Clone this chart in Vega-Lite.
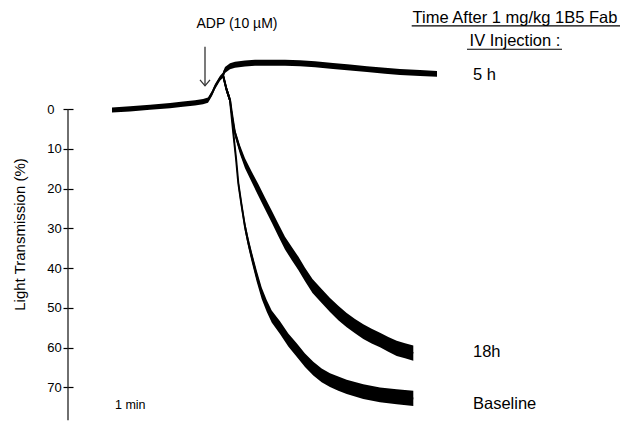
{
  "$schema": "https://vega.github.io/schema/vega-lite/v6.json",
  "width": 550,
  "height": 428,
  "autosize": {"type": "none"},
  "padding": {"left": 73, "top": 0, "right": 0, "bottom": 0},
  "background": "white",
  "config": {"view": {"stroke": null}, "font": "Liberation Sans", "axis": {"grid": false}},
  "datasets": {
    "traces": [
      {"series": "pre", "t": -1.86, "v": 0.2, "lo": -0.45, "hi": 0.85},
      {"series": "pre", "t": -1.5, "v": -0.1, "lo": -0.75, "hi": 0.55},
      {"series": "pre", "t": -1.1, "v": -0.5, "lo": -1.15, "hi": 0.15},
      {"series": "pre", "t": -0.7, "v": -0.9, "lo": -1.55, "hi": -0.25},
      {"series": "pre", "t": -0.44, "v": -1.3, "lo": -1.95, "hi": -0.65},
      {"series": "pre", "t": -0.2, "v": -1.6, "lo": -2.25, "hi": -0.95},
      {"series": "pre", "t": -0.04, "v": -1.9, "lo": -2.55, "hi": -1.25},
      {"series": "pre", "t": 0.06, "v": -2.3, "lo": -2.95, "hi": -1.65},
      {"series": "pre", "t": 0.14, "v": -4.0, "lo": -4.65, "hi": -3.35},
      {"series": "pre", "t": 0.2, "v": -5.7, "lo": -6.35, "hi": -5.05},
      {"series": "pre", "t": 0.3, "v": -7.8, "lo": -8.45, "hi": -7.15},
      {"series": "pre", "t": 0.36, "v": -8.6, "lo": -9.25, "hi": -7.95},

      {"series": "5 h", "t": 0.36, "v": -8.6, "lo": -9.35, "hi": -7.85},
      {"series": "5 h", "t": 0.4, "v": -9.9, "lo": -10.65, "hi": -9.15},
      {"series": "5 h", "t": 0.5, "v": -10.8, "lo": -11.55, "hi": -10.05},
      {"series": "5 h", "t": 0.6, "v": -11.2, "lo": -11.95, "hi": -10.45},
      {"series": "5 h", "t": 0.8, "v": -11.5, "lo": -12.25, "hi": -10.75},
      {"series": "5 h", "t": 1.0, "v": -11.7, "lo": -12.45, "hi": -10.95},
      {"series": "5 h", "t": 1.24, "v": -11.7, "lo": -12.45, "hi": -10.95},
      {"series": "5 h", "t": 1.6, "v": -11.7, "lo": -12.45, "hi": -10.95},
      {"series": "5 h", "t": 1.9, "v": -11.6, "lo": -12.35, "hi": -10.85},
      {"series": "5 h", "t": 2.2, "v": -11.3, "lo": -12.05, "hi": -10.55},
      {"series": "5 h", "t": 2.56, "v": -10.9, "lo": -11.65, "hi": -10.15},
      {"series": "5 h", "t": 2.9, "v": -10.5, "lo": -11.25, "hi": -9.75},
      {"series": "5 h", "t": 3.24, "v": -10.1, "lo": -10.85, "hi": -9.35},
      {"series": "5 h", "t": 3.6, "v": -9.7, "lo": -10.45, "hi": -8.95},
      {"series": "5 h", "t": 3.9, "v": -9.4, "lo": -10.15, "hi": -8.65},
      {"series": "5 h", "t": 4.3, "v": -9.1, "lo": -9.85, "hi": -8.35},
      {"series": "5 h", "t": 4.64, "v": -8.9, "lo": -9.65, "hi": -8.15},

      {"series": "18h", "t": 0.36, "v": -8.6, "lo": -9.4, "hi": -7.8},
      {"series": "18h", "t": 0.43, "v": -5.0, "lo": -5.8, "hi": -4.2},
      {"series": "18h", "t": 0.5, "v": -2.3, "lo": -3.1, "hi": -1.5},
      {"series": "18h", "t": 0.55, "v": 2.0, "lo": 1.05, "hi": 2.95},
      {"series": "18h", "t": 0.6, "v": 6.0, "lo": 5.0, "hi": 7.0},
      {"series": "18h", "t": 0.7, "v": 10.2, "lo": 9.05, "hi": 11.35},
      {"series": "18h", "t": 0.8, "v": 13.6, "lo": 12.35, "hi": 14.85},
      {"series": "18h", "t": 0.933, "v": 17.0, "lo": 15.65, "hi": 18.35},
      {"series": "18h", "t": 1.066, "v": 20.3, "lo": 18.85, "hi": 21.75},
      {"series": "18h", "t": 1.2, "v": 23.7, "lo": 22.2, "hi": 25.2},
      {"series": "18h", "t": 1.334, "v": 27.0, "lo": 25.5, "hi": 28.5},
      {"series": "18h", "t": 1.467, "v": 30.4, "lo": 28.85, "hi": 31.95},
      {"series": "18h", "t": 1.6, "v": 33.7, "lo": 32.1, "hi": 35.3},
      {"series": "18h", "t": 1.733, "v": 36.3, "lo": 34.65, "hi": 37.95},
      {"series": "18h", "t": 1.866, "v": 38.8, "lo": 37.1, "hi": 40.5},
      {"series": "18h", "t": 2.0, "v": 41.6, "lo": 39.9, "hi": 43.3},
      {"series": "18h", "t": 2.15, "v": 44.5, "lo": 42.75, "hi": 46.25},
      {"series": "18h", "t": 2.333, "v": 47.0, "lo": 45.25, "hi": 48.75},
      {"series": "18h", "t": 2.5, "v": 49.3, "lo": 47.55, "hi": 51.05},
      {"series": "18h", "t": 2.666, "v": 51.3, "lo": 49.5, "hi": 53.1},
      {"series": "18h", "t": 2.834, "v": 53.1, "lo": 51.3, "hi": 54.9},
      {"series": "18h", "t": 3.0, "v": 54.6, "lo": 52.8, "hi": 56.4},
      {"series": "18h", "t": 3.166, "v": 56.0, "lo": 54.15, "hi": 57.85},
      {"series": "18h", "t": 3.333, "v": 57.1, "lo": 55.25, "hi": 58.95},
      {"series": "18h", "t": 3.5, "v": 58.1, "lo": 56.25, "hi": 59.95},
      {"series": "18h", "t": 3.666, "v": 59.2, "lo": 57.35, "hi": 61.05},
      {"series": "18h", "t": 3.834, "v": 60.2, "lo": 58.3, "hi": 62.1},
      {"series": "18h", "t": 4.0, "v": 60.8, "lo": 58.9, "hi": 62.7},
      {"series": "18h", "t": 4.166, "v": 61.4, "lo": 59.5, "hi": 63.3},

      {"series": "Baseline", "t": 0.36, "v": -8.6, "lo": -9.4, "hi": -7.8},
      {"series": "Baseline", "t": 0.43, "v": -5.0, "lo": -5.8, "hi": -4.2},
      {"series": "Baseline", "t": 0.5, "v": -2.3, "lo": -3.1, "hi": -1.5},
      {"series": "Baseline", "t": 0.566, "v": 6.0, "lo": 5.0, "hi": 7.0},
      {"series": "Baseline", "t": 0.62, "v": 12.3, "lo": 11.25, "hi": 13.35},
      {"series": "Baseline", "t": 0.666, "v": 18.6, "lo": 17.5, "hi": 19.7},
      {"series": "Baseline", "t": 0.73, "v": 24.1, "lo": 22.9, "hi": 25.3},
      {"series": "Baseline", "t": 0.8, "v": 29.6, "lo": 28.35, "hi": 30.85},
      {"series": "Baseline", "t": 0.867, "v": 33.6, "lo": 32.3, "hi": 34.9},
      {"series": "Baseline", "t": 0.934, "v": 37.1, "lo": 35.75, "hi": 38.45},
      {"series": "Baseline", "t": 1.034, "v": 42.0, "lo": 40.55, "hi": 43.45},
      {"series": "Baseline", "t": 1.134, "v": 46.3, "lo": 44.85, "hi": 47.75},
      {"series": "Baseline", "t": 1.234, "v": 49.5, "lo": 48.0, "hi": 51.0},
      {"series": "Baseline", "t": 1.334, "v": 52.2, "lo": 50.7, "hi": 53.7},
      {"series": "Baseline", "t": 1.5, "v": 55.0, "lo": 53.4, "hi": 56.6},
      {"series": "Baseline", "t": 1.666, "v": 58.1, "lo": 56.45, "hi": 59.75},
      {"series": "Baseline", "t": 1.834, "v": 60.6, "lo": 58.9, "hi": 62.3},
      {"series": "Baseline", "t": 2.0, "v": 63.2, "lo": 61.5, "hi": 64.9},
      {"series": "Baseline", "t": 2.166, "v": 65.3, "lo": 63.55, "hi": 67.05},
      {"series": "Baseline", "t": 2.333, "v": 67.0, "lo": 65.25, "hi": 68.75},
      {"series": "Baseline", "t": 2.5, "v": 68.2, "lo": 66.45, "hi": 69.95},
      {"series": "Baseline", "t": 2.666, "v": 69.1, "lo": 67.3, "hi": 70.9},
      {"series": "Baseline", "t": 2.834, "v": 69.9, "lo": 68.1, "hi": 71.7},
      {"series": "Baseline", "t": 3.166, "v": 71.1, "lo": 69.25, "hi": 72.95},
      {"series": "Baseline", "t": 3.5, "v": 71.9, "lo": 70.05, "hi": 73.75},
      {"series": "Baseline", "t": 3.834, "v": 72.4, "lo": 70.5, "hi": 74.3},
      {"series": "Baseline", "t": 4.166, "v": 72.8, "lo": 70.9, "hi": 74.7}
    ],
    "notes": [
      {"label": "ADP (10 µM)", "t": 0.64, "v": -20.47, "kind": "adp"},
      {"label": "Time After 1 mg/kg 1B5 Fab", "t": 6.2, "v": -21.8, "kind": "title"},
      {"label": "IV Injection :", "t": 6.2, "v": -15.9, "kind": "title"},
      {"label": "5 h", "t": 5.36, "v": -7.25, "kind": "series"},
      {"label": "18h", "t": 5.36, "v": 62.38, "kind": "series"},
      {"label": "Baseline", "t": 5.36, "v": 75.47, "kind": "series"},
      {"label": "1 min", "t": -1.8, "v": 75.47, "kind": "scale"}
    ],
    "underlines": [
      {"t": 4.134, "t2": 8.3, "v": -21.0},
      {"t": 5.24, "t2": 7.14, "v": -15.1}
    ],
    "arrow": [
      {"t": 0.0, "v": -15.7, "v2": -5.9}
    ],
    "yaxis": [
      {"t": -2.74, "v": 0, "v2": 78.3}
    ]
  },
  "encoding": {
    "x": {"field": "t", "type": "quantitative", "scale": {"domain": [-2.64, 8.36], "nice": false, "zero": false}, "axis": null},
    "y": {
      "field": "v", "type": "quantitative",
      "scale": {"domain": [-27.5, 80.25], "reverse": true, "nice": false, "zero": false},
      "axis": {
        "values": [0, 10, 20, 30, 40, 50, 60, 70],
        "domain": false,
        "tickSize": 10, "tickColor": "black", "tickWidth": 1.2,
        "labelAlign": "left", "labelPadding": 16.3, "labelFontSize": 13, "labelColor": "black",
        "labelFont": "Liberation Sans",
        "title": "Light Transmission (%)", "titleFontSize": 15, "titleFontWeight": "normal",
        "titleColor": "black", "titleFont": "Liberation Sans",
        "titleX": -53.5, "titleY": 234, "titleAngle": -90, "titleBaseline": "middle", "titleAlign": "center"
      }
    }
  },
  "layer": [
    {
      "data": {"name": "yaxis"},
      "mark": {"type": "rule", "color": "#222", "strokeWidth": 1.3, "clip": false},
      "encoding": {"y2": {"field": "v2"}}
    },
    {
      "data": {"name": "traces"},
      "mark": {"type": "area", "color": "black", "opacity": 1},
      "encoding": {
        "y": {
          "field": "lo", "type": "quantitative",
          "scale": {"domain": [-27.5, 80.25], "reverse": true, "nice": false, "zero": false},
          "axis": {
            "values": [0, 10, 20, 30, 40, 50, 60, 70],
            "domain": false,
            "tickSize": 10, "tickColor": "black", "tickWidth": 1.2,
            "labelAlign": "left", "labelPadding": 16.3, "labelFontSize": 13, "labelColor": "black",
            "labelFont": "Liberation Sans",
            "title": "Light Transmission (%)", "titleFontSize": 15, "titleFontWeight": "normal",
            "titleColor": "black", "titleFont": "Liberation Sans",
            "titleX": -53.5, "titleY": 234, "titleAngle": -90, "titleBaseline": "middle", "titleAlign": "center"
          }
        },
        "y2": {"field": "hi"},
        "detail": {"field": "series"}
      }
    },
    {
      "data": {"name": "traces"},
      "mark": {"type": "line", "color": "black", "strokeWidth": 2},
      "encoding": {"detail": {"field": "series"}}
    },
    {
      "data": {"name": "arrow"},
      "mark": {"type": "rule", "color": "#333", "strokeWidth": 1.3},
      "encoding": {"y2": {"field": "v2"}}
    },
    {
      "data": {"name": "arrow"},
      "mark": {"type": "point", "shape": "M-1,-1.2L0,0L1,-1.2", "size": 100, "filled": false, "stroke": "#333", "strokeWidth": 1.3, "opacity": 1},
      "encoding": {
        "y": {
          "field": "v2", "type": "quantitative",
          "scale": {"domain": [-27.5, 80.25], "reverse": true, "nice": false, "zero": false},
          "axis": {
            "values": [0, 10, 20, 30, 40, 50, 60, 70],
            "domain": false,
            "tickSize": 10, "tickColor": "black", "tickWidth": 1.2,
            "labelAlign": "left", "labelPadding": 16.3, "labelFontSize": 13, "labelColor": "black",
            "labelFont": "Liberation Sans",
            "title": "Light Transmission (%)", "titleFontSize": 15, "titleFontWeight": "normal",
            "titleColor": "black", "titleFont": "Liberation Sans",
            "titleX": -53.5, "titleY": 234, "titleAngle": -90, "titleBaseline": "middle", "titleAlign": "center"
          }
        }
      }
    },
    {
      "data": {"name": "underlines"},
      "mark": {"type": "rule", "color": "black", "strokeWidth": 1.2},
      "encoding": {"x2": {"field": "t2"}}
    },
    {
      "data": {"name": "notes"},
      "transform": [{"filter": "datum.kind === 'adp'"}],
      "mark": {"type": "text", "fontSize": 14, "align": "center", "baseline": "alphabetic", "color": "black", "font": "Liberation Sans"},
      "encoding": {"text": {"field": "label"}}
    },
    {
      "data": {"name": "notes"},
      "transform": [{"filter": "datum.kind === 'title'"}],
      "mark": {"type": "text", "fontSize": 16.5, "align": "center", "baseline": "alphabetic", "color": "black", "font": "Liberation Sans"},
      "encoding": {"text": {"field": "label"}}
    },
    {
      "data": {"name": "notes"},
      "transform": [{"filter": "datum.kind === 'series'"}],
      "mark": {"type": "text", "fontSize": 16.5, "align": "left", "baseline": "alphabetic", "color": "black", "font": "Liberation Sans"},
      "encoding": {"text": {"field": "label"}}
    },
    {
      "data": {"name": "notes"},
      "transform": [{"filter": "datum.kind === 'scale'"}],
      "mark": {"type": "text", "fontSize": 12.5, "align": "left", "baseline": "alphabetic", "color": "black", "font": "Liberation Sans"},
      "encoding": {"text": {"field": "label"}}
    }
  ]
}
